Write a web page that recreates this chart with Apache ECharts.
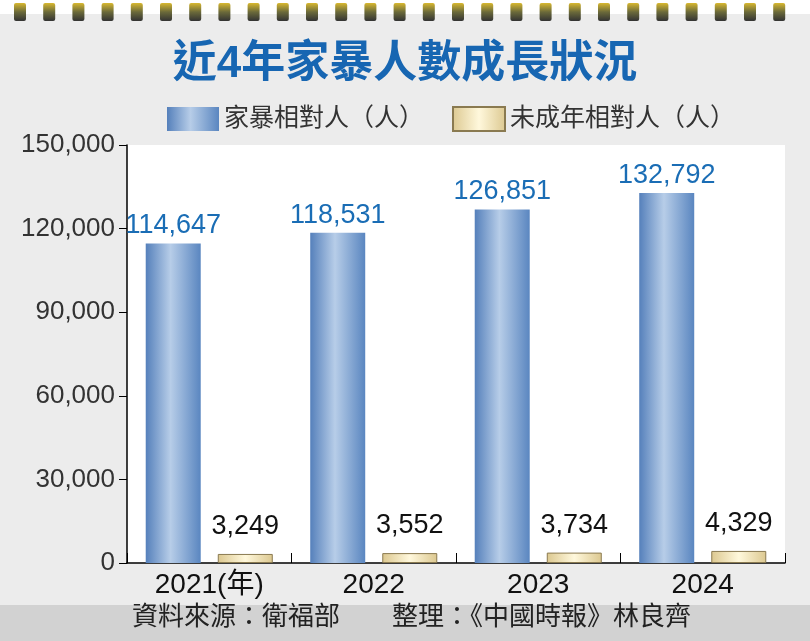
<!DOCTYPE html>
<html>
<head>
<meta charset="utf-8">
<script src="https://cdn.jsdelivr.net/npm/echarts@6/dist/echarts.min.js"></script>
<style>body{margin:0;background:#ececec}</style>
</head>
<body>
<div id="main" style="width:810px;height:641px;"></div>
<script>
var years = ['2021(年)', '2022', '2023', '2024'];
var abuse = [114647, 118531, 126851, 132792];
var minor = [3249, 3552, 3734, 4329];
var yTicks = [0, 30000, 60000, 90000, 120000, 150000];

var chart = echarts.init(document.getElementById('main'));
var font = '"Liberation Sans", "Noto Sans CJK TC", sans-serif';

var rings = [];
for (var i = 0; i < 27; i++) {
    rings.push({type: 'rect', shape: {x: 14 + i * 29.2, y: 3, width: 12, height: 18, r: 2},
        style: {fill: new echarts.graphic.LinearGradient(0, 0, 0, 1, [{offset: 0, color: '#d8b830'}, {offset: 0.5, color: '#6b6a3a'}, {offset: 1, color: '#333'}])}});
}

var blueGrad = new echarts.graphic.LinearGradient(0, 0, 1, 0, [
    {offset: 0, color: '#5580bb'}, {offset: 0.45, color: '#b7cde8'}, {offset: 1, color: '#5a86c0'}]);
var goldGrad = new echarts.graphic.LinearGradient(0, 0, 1, 0, [
    {offset: 0, color: '#dcc890'}, {offset: 0.5, color: '#fff8dc'}, {offset: 1, color: '#dcc890'}]);

chart.setOption({
    backgroundColor: '#ececec',
    textStyle: {fontFamily: font},
    graphic: rings.concat([
        {type: 'rect', shape: {x: 0, y: 0, width: 810, height: 14}, style: {fill: '#fff'}, z: -1},
        {type: 'rect', shape: {x: 0, y: 605, width: 810, height: 36}, style: {fill: '#d2d2d2'}},
        {type: 'text', left: 132, top: 605, style: {text: '資料來源：衛福部　　整理：《中國時報》林良齊', fontSize: 26, fill: '#222', fontFamily: font}}
    ]),
    title: {text: '近4年家暴人數成長狀況', left: 'center', top: 38,
        textStyle: {color: '#1766b2', fontSize: 44, fontWeight: 'bold', fontFamily: font}},
    legend: {top: 101, left: 162, itemWidth: 52, itemHeight: 24, itemGap: 28, icon: 'rect',
        textStyle: {fontSize: 25, color: '#333', fontFamily: font},
        data: ['家暴相對人（人）', '未成年相對人（人）']},
    grid: {left: 127, right: 25, top: 145, bottom: 78},
    xAxis: {type: 'category', data: years,
        axisLine: {lineStyle: {color: '#000', width: 1.5}},
        axisTick: {show: true, length: 10, inside: true, lineStyle: {color: '#000'}},
        axisLabel: {fontSize: 28, color: '#111', margin: 8}},
    yAxis: {type: 'value', min: 0, max: 150000, interval: 30000,
        axisLine: {show: true, lineStyle: {color: '#000', width: 1.5}},
        axisTick: {show: true, length: 8, lineStyle: {color: '#000'}},
        splitLine: {show: false},
        splitArea: {show: true, areaStyle: {color: ['#fff']}},
        axisLabel: {fontSize: 26, color: '#333', margin: 12,
            formatter: function (v) { return yTicks.indexOf(v) >= 0 ? v.toLocaleString('en-US') : ''; }}},
    series: [
        {name: '家暴相對人（人）', type: 'bar', data: abuse, barWidth: 55, barGap: '31%',
            itemStyle: {color: blueGrad},
            label: {show: true, position: 'top', distance: 4, fontSize: 27, color: '#1a6db5',
                formatter: function (p) { return p.value.toLocaleString('en-US'); }}},
        {name: '未成年相對人（人）', type: 'bar', data: minor, barWidth: 55,
            itemStyle: {color: goldGrad, borderColor: '#8a7a50', borderWidth: 1},
            label: {show: true, position: 'top', distance: 14, fontSize: 27, color: '#111',
                formatter: function (p) { return p.value.toLocaleString('en-US'); }}}
    ]
});
</script>
</body>
</html>
